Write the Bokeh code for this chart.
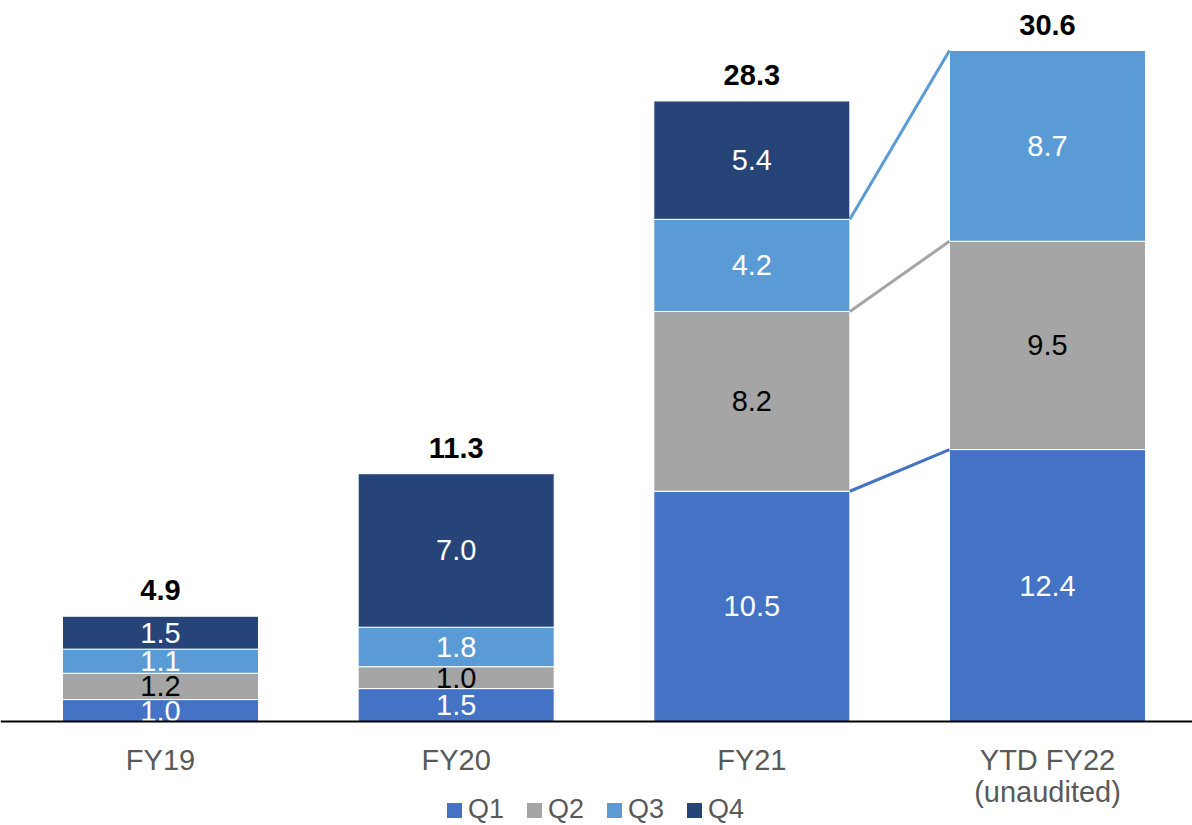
from bokeh.plotting import figure
from bokeh.models import Span, ColumnDataSource, Range1d
from bokeh.core.properties import value
from bokeh.embed import file_html
from bokeh.resources import INLINE

# ---- data ----
categories = ["FY19", "FY20", "FY21", "YTD FY22\n(unaudited)"]
quarters = ["Q1", "Q2", "Q3", "Q4"]
q1 = [1.0, 1.5, 10.5, 12.4]
q2 = [1.2, 1.0, 8.2, 9.5]
q3 = [1.1, 1.8, 4.2, 8.7]
q4 = [1.5, 7.0, 5.4, 0.0]
totals = [4.9, 11.3, 28.3, 30.6]

colors = ["#4472C4", "#A5A5A5", "#5B9BD5", "#264478"]
label_colors = ["white", "black", "white", "white"]
FONT = "Liberation Sans"

# ---- geometry ----
W, H = 1192, 825
scale = 21.928          # px per unit
base_px = 721           # baseline from figure top
pitch = 295.67          # px between categories
x0 = 160                # px of first category center
bar_w = 0.663

y_top = base_px / scale
y_bot = -(H - base_px) / scale
x_start = -x0 / pitch
x_end = (W - x0) / pitch

xs = list(range(len(categories)))
series = [q1, q2, q3, q4]

p = figure(width=W, height=H, x_range=Range1d(x_start, x_end), y_range=Range1d(y_bot, y_top),
           output_backend="svg", toolbar_location=None, min_border=0,
           x_axis_location=None, y_axis_location=None)
p.outline_line_color = None
p.grid.visible = False
p.background_fill_color = "white"

src = ColumnDataSource(dict(x=xs, Q1=q1, Q2=q2, Q3=q3, Q4=q4))
p.vbar_stack(quarters, x="x", width=bar_w, fill_color=colors, line_color="white",
             line_width=1, source=src, legend_label=quarters)

# segment labels
lx, ly, lt, lc = [], [], [], []
cums = []
for i in range(len(categories)):
    bottom = 0.0
    cum_i = []
    for k, s in enumerate(series):
        v = s[i]
        if v > 0:
            lx.append(xs[i]); ly.append(bottom + v / 2)
            lt.append(f"{v:.1f}"); lc.append(label_colors[k])
        bottom += v
        cum_i.append(bottom)
    cums.append(cum_i)

p.text(x=lx, y=ly, text=lt, text_color=lc, text_font=value(FONT), text_font_size="29px",
       text_align="center", text_baseline="middle")

# totals
tops = [c[-1] for c in cums]
p.text(x=xs, y=[t + 26 / scale for t in tops], text=[f"{t:.1f}" for t in totals],
       text_color="black", text_font=value(FONT), text_font_size="29px",
       text_font_style="bold", text_align="center", text_baseline="alphabetic")

# connectors between FY21 and FY22
for k in range(3):
    p.line([xs[2] + bar_w / 2, xs[3] - bar_w / 2], [cums[2][k], cums[3][k]],
           line_color=colors[k], line_width=3)

# baseline
p.add_layout(Span(location=0, dimension="width", line_color="black", line_width=2))

# category labels
p.text(x=xs, y=[-22 / scale] * len(xs), text=categories, text_color="#595959",
       text_font=value(FONT), text_font_size="29px", text_align="center",
       text_baseline="top", text_line_height=1.02)

lg = p.legend[0]
lg.orientation = "horizontal"
lg.location = (444, 0)
lg.glyph_width = 20
lg.glyph_height = 20
lg.label_text_font = FONT
lg.label_text_font_size = "27px"
lg.label_text_color = "#595959"
lg.label_standoff = 4
lg.spacing = 20
lg.padding = 0
lg.margin = 0
lg.border_line_color = None
lg.background_fill_alpha = 0

open("out.html", "w").write(file_html(p, INLINE))
